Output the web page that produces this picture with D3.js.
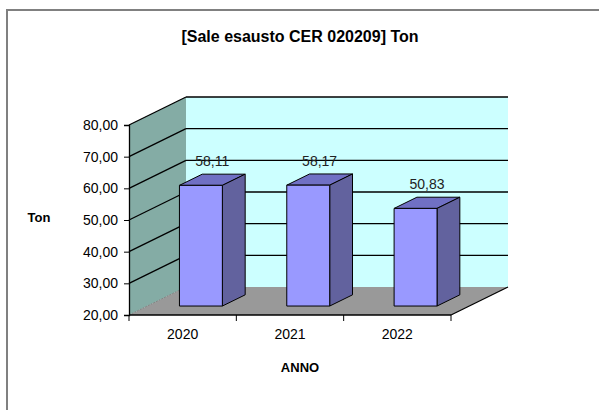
<!DOCTYPE html>
<html>
<head>
<meta charset="utf-8">
<script src="https://cdn.jsdelivr.net/npm/d3@7"></script>
<style>
  body { margin: 0; background: #fff; }
  svg text { font-family: "Liberation Sans", Arial, sans-serif; fill: #000; }
</style>
</head>
<body>
<div id="chart"></div>
<script>
const years = ['2020', '2021', '2022'];
const values = [58.11, 58.17, 50.83];
const yTicks = [20, 30, 40, 50, 60, 70, 80];

const width = 599, height = 410;
// 3d depth offset of the plot box
const depth = {dx: 57, dy: -28};
// bars sit between these fractions of the depth
const f0 = 0.32, f1 = 0.72;

const svg = d3.select('#chart').append('svg')
  .attr('width', width)
  .attr('height', height);

// outer frame
svg.append('rect')
  .attr('x', 7).attr('y', 10)
  .attr('width', 600).attr('height', 410)
  .attr('fill', 'none')
  .attr('stroke', '#808080')
  .attr('stroke-width', 2);

const x = d3.scaleBand()
  .domain(years)
  .range([129, 451]);

const y = d3.scaleLinear()
  .domain([20, 80])
  .range([315, 125]);

const fmt = v => d3.format('.2f')(v).replace('.', ',');

const pts = arr => arr.map(p => p.join(',')).join(' ');

const x0 = x.range()[0], x1 = x.range()[1];
const yBot = y(20), yTop = y(80);

// back wall
svg.append('polygon')
  .attr('points', pts([
    [x0 + depth.dx, yTop + depth.dy], [x1 + depth.dx, yTop + depth.dy],
    [x1 + depth.dx, yBot + depth.dy], [x0 + depth.dx, yBot + depth.dy]
  ]))
  .attr('fill', '#ccffff');

// side wall
svg.append('polygon')
  .attr('points', pts([
    [x0, yTop], [x0 + depth.dx, yTop + depth.dy],
    [x0 + depth.dx, yBot + depth.dy], [x0, yBot]
  ]))
  .attr('fill', '#84aca5');

// floor
svg.append('polygon')
  .attr('points', pts([
    [x0, yBot], [x1, yBot],
    [x1 + depth.dx, yBot + depth.dy], [x0 + depth.dx, yBot + depth.dy]
  ]))
  .attr('fill', '#999999');

// gridlines on back and side walls
const grid = svg.append('g')
  .attr('stroke', '#000')
  .attr('stroke-width', 1.3)
  .attr('fill', 'none');

yTicks.filter(t => t > 20).forEach(t => {
  grid.append('line')
    .attr('x1', x0 + depth.dx).attr('y1', y(t) + depth.dy)
    .attr('x2', x1 + depth.dx).attr('y2', y(t) + depth.dy);
  grid.append('line')
    .attr('x1', x0).attr('y1', y(t))
    .attr('x2', x0 + depth.dx).attr('y2', y(t) + depth.dy);
});

// floor edges
svg.append('line')
  .attr('x1', x0).attr('y1', yBot)
  .attr('x2', x0 + depth.dx).attr('y2', yBot + depth.dy)
  .attr('stroke', '#777').attr('stroke-width', 0.8)
  .attr('stroke-dasharray', '2,1');
svg.append('line')
  .attr('x1', x1).attr('y1', yBot)
  .attr('x2', x1 + depth.dx).attr('y2', yBot + depth.dy)
  .attr('stroke', '#000').attr('stroke-width', 1.3);

// bars
const bw = x.bandwidth() * 0.4;
const ddx = (f1 - f0) * depth.dx, ddy = (f1 - f0) * depth.dy;

const bars = svg.append('g').selectAll('g')
  .data(years.map((yr, i) => ({year: yr, value: values[i]})))
  .enter().append('g')
  .attr('stroke', '#000')
  .attr('stroke-width', 1)
  .attr('stroke-linejoin', 'round');

const bx = d => x(d.year) + (x.bandwidth() - bw) / 2 + f0 * depth.dx;
const byTop = d => y(d.value) + f0 * depth.dy;
const byBot = () => yBot + f0 * depth.dy;

bars.append('polygon')
  .attr('points', d => pts([
    [bx(d), byTop(d)], [bx(d) + bw, byTop(d)],
    [bx(d) + bw + ddx, byTop(d) + ddy], [bx(d) + ddx, byTop(d) + ddy]
  ]))
  .attr('fill', '#7070c4');

bars.append('polygon')
  .attr('points', d => pts([
    [bx(d) + bw, byTop(d)], [bx(d) + bw + ddx, byTop(d) + ddy],
    [bx(d) + bw + ddx, byBot() + ddy], [bx(d) + bw, byBot()]
  ]))
  .attr('fill', '#62629e');

bars.append('rect')
  .attr('x', d => bx(d))
  .attr('y', d => byTop(d))
  .attr('width', bw)
  .attr('height', d => byBot() - byTop(d))
  .attr('fill', '#9999ff');

// value labels
svg.append('g').selectAll('text')
  .data(years.map((yr, i) => ({year: yr, value: values[i]})))
  .enter().append('text')
  .attr('x', d => bx(d) + bw / 2 + ddx / 2)
  .attr('y', d => byTop(d) + ddy - 8)
  .attr('text-anchor', 'middle')
  .attr('font-size', 14)
  .style('fill', '#222')
  .text(d => fmt(d.value));

// y axis
const yAxis = d3.axisLeft(y)
  .tickValues(yTicks)
  .tickSize(5)
  .tickPadding(6)
  .tickFormat(fmt);

const gy = svg.append('g')
  .attr('transform', `translate(${x0},0)`)
  .call(yAxis);
gy.select('.domain').attr('stroke-width', 1.3);
gy.selectAll('text').attr('font-size', 14).style('font-family', '"Liberation Sans", Arial, sans-serif');

// x axis
const xTickPos = [x0, ...years.slice(1).map(yr => x(yr)), x1];
const gx = svg.append('g');
gx.append('line')
  .attr('x1', x0).attr('y1', yBot)
  .attr('x2', x1).attr('y2', yBot)
  .attr('stroke', '#000').attr('stroke-width', 1.6);
gx.selectAll('.tk')
  .data(xTickPos)
  .enter().append('line')
  .attr('class', 'tk')
  .attr('x1', d => d).attr('x2', d => d)
  .attr('y1', yBot).attr('y2', yBot + 6)
  .attr('stroke', '#000');
gx.selectAll('text')
  .data(years)
  .enter().append('text')
  .attr('x', d => x(d) + x.bandwidth() / 2)
  .attr('y', yBot + 24)
  .attr('text-anchor', 'middle')
  .attr('font-size', 14)
  .text(d => d);

// titles
svg.append('text')
  .attr('x', 300).attr('y', 42)
  .attr('text-anchor', 'middle')
  .attr('font-size', 16)
  .attr('font-weight', 'bold')
  .text('[Sale esausto CER 020209] Ton');

svg.append('text')
  .attr('x', 39).attr('y', 222)
  .attr('text-anchor', 'middle')
  .attr('font-size', 13)
  .attr('font-weight', 'bold')
  .text('Ton');

svg.append('text')
  .attr('x', 300).attr('y', 372)
  .attr('text-anchor', 'middle')
  .attr('font-size', 13)
  .attr('font-weight', 'bold')
  .text('ANNO');
</script>
</body>
</html>
